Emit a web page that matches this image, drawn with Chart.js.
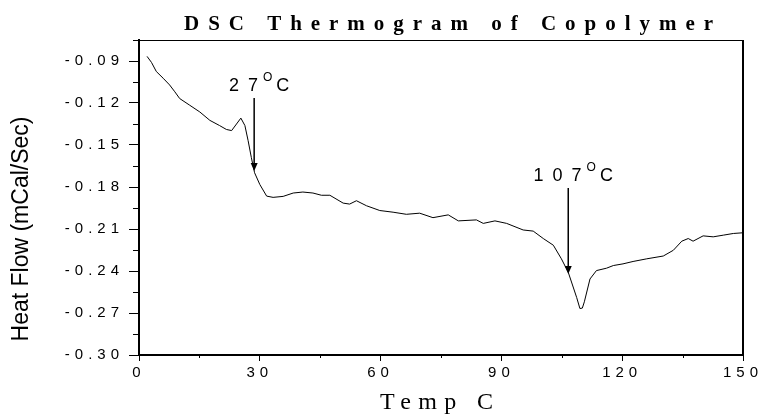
<!DOCTYPE html>
<html>
<head>
<meta charset="utf-8">
<script src="https://cdn.jsdelivr.net/npm/chart.js@4.4.1/dist/chart.umd.min.js"></script>
<style>
  html, body { margin: 0; padding: 0; background: #fff; }
</style>
</head>
<body>
<canvas id="chart" width="760" height="414"></canvas>
<script>
// DSC trace
const temps = [2.0, 3.1, 4.3, 6.0, 7.6, 8.9, 10.1, 12.6, 15.1, 17.6, 20.0, 21.7, 23.0, 25.3, 26.3,
  27.1, 27.9, 28.7, 30.0, 31.7, 33.3, 35.8, 38.3, 40.7, 43.2, 45.3, 47.4, 50.7, 52.3, 54.0, 56.5,
  59.8, 63.1, 66.4, 69.7, 73.0, 76.8, 79.3, 83.8, 85.5, 88.4, 91.3, 95.4, 97.9, 100.4, 102.9, 104.9,
  106.6, 108.7, 109.5, 110.1, 110.6, 112.0, 113.6, 116.1, 117.8, 120.2, 122.7, 126.1, 130.2, 132.7,
  134.8, 136.4, 137.6, 140.1, 142.6, 145.1, 147.6, 150.0];
const heatFlow = [-0.0867, -0.0910, -0.0975, -0.1023, -0.1071, -0.1120, -0.1168, -0.1216, -0.1264,
  -0.1324, -0.1361, -0.1389, -0.1397, -0.1308, -0.1361, -0.1469, -0.1590, -0.1698, -0.1782, -0.1865,
  -0.1874, -0.1867, -0.1843, -0.1836, -0.1843, -0.1859, -0.1859, -0.1915, -0.1922, -0.1898, -0.1934,
  -0.1968, -0.1980, -0.1995, -0.1987, -0.2019, -0.1999, -0.2042, -0.2035, -0.2060, -0.2042, -0.2060,
  -0.2107, -0.2115, -0.2168, -0.2216, -0.2313, -0.2409, -0.2590, -0.2668, -0.2665, -0.2620, -0.2457,
  -0.2397, -0.2380, -0.2361, -0.2349, -0.2332, -0.2313, -0.2293, -0.2252, -0.2187, -0.2168, -0.2187,
  -0.2149, -0.2156, -0.2144, -0.2132, -0.2127];

const xTicks = [0, 30, 60, 90, 120, 150];
const xMinorTicks = [15, 45, 75, 105, 135];
const yTicks = [-0.09, -0.12, -0.15, -0.18, -0.21, -0.24, -0.27, -0.30];
const yMinorTicks = [-0.075, -0.105, -0.135, -0.165, -0.195, -0.225, -0.255, -0.285];

// arrows with their temperature labels
const markTemps = [28.6, 106.6];
const markFrom = [-0.1165, -0.1807];
const markTo = [-0.1686, -0.2421];
const markLabels = ['27', '107'];

function spacedText(ctx, text, left, right, baseline) {
  ctx.letterSpacing = '0px';
  const w = ctx.measureText(text).width;
  const gap = (right - left - w) / (text.length - 1);
  ctx.letterSpacing = gap + 'px';
  ctx.textAlign = 'left';
  ctx.fillText(text, left, baseline);
  ctx.letterSpacing = '0px';
}

const overlay = {
  id: 'overlay',
  afterDraw(chart) {
    const { ctx, chartArea: a } = chart;
    const x = chart.scales.x, y = chart.scales.y;
    ctx.save();
    ctx.strokeStyle = '#000';
    ctx.fillStyle = '#000';

    // top and right frame
    ctx.lineWidth = 1;
    ctx.beginPath();
    ctx.moveTo(a.left, a.top + 0.5);
    ctx.lineTo(a.right, a.top + 0.5);
    ctx.stroke();
    ctx.lineWidth = 2;
    ctx.beginPath();
    ctx.moveTo(a.right, a.top);
    ctx.lineTo(a.right, a.bottom);
    ctx.stroke();

    // minor ticks
    ctx.lineWidth = 1;
    yMinorTicks.forEach(v => {
      const py = Math.round(y.getPixelForValue(v)) + 0.5;
      ctx.beginPath();
      ctx.moveTo(a.left - 6, py);
      ctx.lineTo(a.left, py);
      ctx.stroke();
    });
    xMinorTicks.forEach(v => {
      const px = Math.round(x.getPixelForValue(v)) + 0.5;
      ctx.beginPath();
      ctx.moveTo(px, a.bottom);
      ctx.lineTo(px, a.bottom + 3);
      ctx.stroke();
    });

    // tick labels
    ctx.font = '15px "Liberation Sans"';
    ctx.letterSpacing = '5px';
    ctx.textBaseline = 'middle';
    ctx.textAlign = 'right';
    yTicks.forEach(v => ctx.fillText(v.toFixed(2), a.left - 15, y.getPixelForValue(v)));
    ctx.textAlign = 'center';
    xTicks.forEach(v => ctx.fillText(String(v), x.getPixelForValue(v), a.bottom + 18));

    // titles
    ctx.textBaseline = 'alphabetic';
    ctx.font = 'bold 21px "Liberation Serif"';
    spacedText(ctx, 'DSC Thermogram of Copolymer', 184, 713, 30);
    ctx.font = '24px "Liberation Serif"';
    spacedText(ctx, 'Temp C', 380, 493, 409);

    ctx.save();
    ctx.translate(22, 229);
    ctx.rotate(-Math.PI / 2);
    ctx.font = '23px "Liberation Sans"';
    ctx.textAlign = 'center';
    ctx.textBaseline = 'middle';
    ctx.fillText('Heat Flow (mCal/Sec)', 0, 0);
    ctx.restore();

    // arrows + labels
    markTemps.forEach((t, i) => {
      const px = x.getPixelForValue(t);
      const top = y.getPixelForValue(markFrom[i]);
      const tip = y.getPixelForValue(markTo[i]);
      ctx.lineWidth = 1.5;
      ctx.beginPath();
      ctx.moveTo(px, top);
      ctx.lineTo(px, tip - 6);
      ctx.stroke();
      ctx.beginPath();
      ctx.moveTo(px - 3.5, tip - 8);
      ctx.lineTo(px + 3.5, tip - 8);
      ctx.lineTo(px, tip);
      ctx.closePath();
      ctx.fill();

      const digits = markLabels[i];
      ctx.font = '18px "Liberation Sans"';
      ctx.letterSpacing = '0px';
      const nat = ctx.measureText(digits).width;
      const digitsW = nat + 9 * (digits.length - 1);
      ctx.font = '12px "Liberation Sans"';
      const oW = ctx.measureText('O').width;
      ctx.font = '18px "Liberation Sans"';
      const cW = ctx.measureText('C').width;
      const total = digitsW + 5 + oW + 4 + cW;
      const left = px + 5 - total / 2;
      const base = top - 7;
      ctx.textAlign = 'left';
      ctx.letterSpacing = '9px';
      ctx.fillText(digits, left, base);
      ctx.letterSpacing = '0px';
      ctx.fillText('C', left + digitsW + 5 + oW + 4, base);
      ctx.font = '12px "Liberation Sans"';
      ctx.fillText('O', left + digitsW + 5, base - 10);
    });
    ctx.restore();
  }
};

new Chart(document.getElementById('chart'), {
  type: 'line',
  data: {
    datasets: [{
      data: temps.map((t, i) => ({ x: t, y: heatFlow[i] })),
      borderColor: '#000',
      borderWidth: 1,
      pointRadius: 0,
      tension: 0,
      fill: false
    }]
  },
  options: {
    responsive: false,
    animation: false,
    layout: { padding: { top: 40, right: 17, left: 0, bottom: 0 } },
    plugins: { legend: { display: false }, tooltip: { enabled: false }, title: { display: false } },
    scales: {
      x: {
        type: 'linear', min: 0, max: 150,
        afterBuildTicks: s => { s.ticks = xTicks.map(v => ({ value: v })); },
        afterFit: s => { s.height = 59; },
        ticks: { display: false },
        grid: { drawOnChartArea: false, drawTicks: true, tickLength: 6, tickColor: '#000', tickWidth: 1 },
        border: { display: true, color: '#000', width: 2 }
      },
      y: {
        type: 'linear', min: -0.30, max: -0.075,
        afterBuildTicks: s => { s.ticks = yTicks.map(v => ({ value: v })); },
        afterFit: s => { s.width = 139; },
        ticks: { display: false },
        grid: { drawOnChartArea: false, drawTicks: true, tickLength: 10, tickColor: '#000', tickWidth: 1 },
        border: { display: true, color: '#000', width: 2 }
      }
    }
  },
  plugins: [overlay]
});
</script>
</body>
</html>
